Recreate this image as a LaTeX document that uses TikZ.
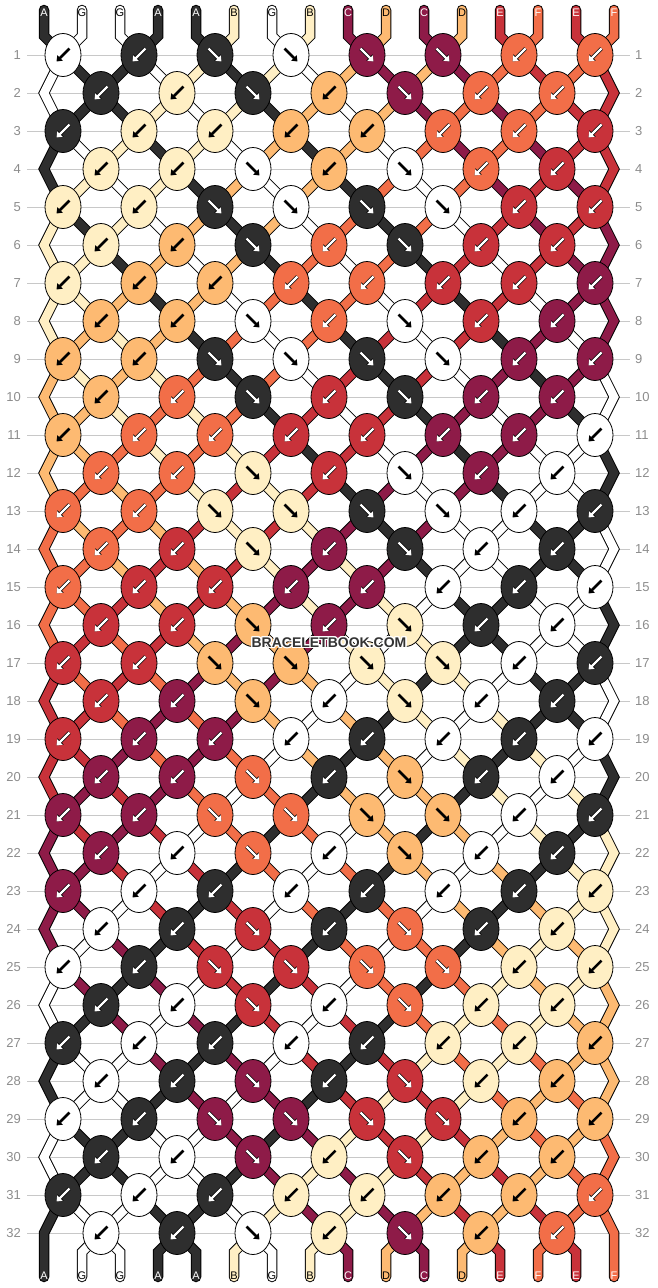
\documentclass[tikz,border=0pt]{standalone}
\usepackage{fontspec}
\setmainfont{Liberation Sans}
\usepackage[copies]{contour}
\usetikzlibrary{shapes.geometric,arrows.meta}

\definecolor{colA}{HTML}{2E2E2E}
\definecolor{colG}{HTML}{FFFFFF}
\definecolor{colB}{HTML}{FFEFC4}
\definecolor{colC}{HTML}{8E1B48}
\definecolor{colD}{HTML}{FDBA72}
\definecolor{colE}{HTML}{C8323A}
\definecolor{colF}{HTML}{F26E48}
\definecolor{rowgray}{HTML}{8C8C8C}
\definecolor{linegray}{HTML}{C8C8C8}
\definecolor{markgray}{HTML}{333333}

\pgfdeclarelayer{grid}
\pgfdeclarelayer{strands}
\pgfsetlayers{grid,strands,main}
\contourlength{1.2pt}

\tikzset{
  warrow/.style={draw=white, line width=2.3pt, -{Triangle[length=4.8pt,width=7.2pt]},
    preaction={draw=black, line width=3.7pt, -{Triangle[length=5.8pt,width=8.6pt]}}},
  barrow/.style={draw=black, line width=2.5pt, -{Triangle[length=5pt,width=7.4pt]}},
  arrA/.style=warrow, arrC/.style=warrow, arrE/.style=warrow, arrF/.style=warrow,
  arrG/.style=barrow, arrB/.style=barrow, arrD/.style=barrow,
  lbl/.style={inner sep=0pt, font=\fontsize{11}{11}\selectfont},
  lblA/.style={lbl, text=white}, lblC/.style={lbl, text=white},
  lblE/.style={lbl, text=white}, lblF/.style={lbl, text=white},
  lblG/.style={lbl, text=black}, lblB/.style={lbl, text=black}, lblD/.style={lbl, text=black}
}

% add a point to the path of string #1
\newcommand\addpt[2]{%
  \edef\sid{#1}%
  \expandafter\xdef\csname sp\sid\endcsname{\csname sp\sid\endcsname -- #2}}

% one knot between positions \pa and \pb
\newcommand\knotat{%
  \edef\ia{\csname id\pa\endcsname}%
  \edef\ib{\csname id\pb\endcsname}%
  \if L\kt \edef\kc{\csname sc\ib\endcsname}\else \edef\kc{\csname sc\ia\endcsname}\fi
  \node[knot, fill=col\kc] (k\rr-\kk) at (\xx,\yy) {};
  \if L\kt
    \draw[arr\kc] ([shift={(6.5,-6.5)}]k\rr-\kk.center) -- ([shift={(-6.5,6.5)}]k\rr-\kk.center);
  \else
    \draw[arr\kc] ([shift={(-6.5,-6.5)}]k\rr-\kk.center) -- ([shift={(6.5,6.5)}]k\rr-\kk.center);
  \fi
  \addpt{\ia}{(k\rr-\kk.center)}%
  \addpt{\ib}{(k\rr-\kk.center)}%
  \expandafter\xdef\csname id\pa\endcsname{\ib}%
  \expandafter\xdef\csname id\pb\endcsname{\ia}}

\newcommand\oddrow{%
  \foreach \kt [count=\kk] in \rtype {%
    \pgfmathtruncatemacro\pa{2*\kk-1}%
    \pgfmathtruncatemacro\pb{2*\kk}%
    \pgfmathtruncatemacro\xx{76*\kk-13}%
    \knotat}}

\newcommand\evenrow{%
  \coordinate (el\rr) at (44,\yy);
  \coordinate (er\rr) at (614,\yy);
  \addpt{\csname id1\endcsname}{(el\rr)}%
  \addpt{\csname id16\endcsname}{(er\rr)}%
  \foreach \kt [count=\kk] in \rtype {%
    \pgfmathtruncatemacro\pa{2*\kk}%
    \pgfmathtruncatemacro\pb{2*\kk+1}%
    \pgfmathtruncatemacro\xx{76*\kk+25}%
    \knotat}}

\begin{document}
\begin{tikzpicture}[x=1pt, y=-1pt,
  knot/.style={ellipse, draw=black, line width=0.8pt, minimum width=36pt, minimum height=43pt, inner sep=0pt},
  strand/.style={draw=black, line width=10.5pt, line cap=round, line join=miter,
    postaction={draw=col#1, line width=8.5pt}},
  rownum/.style={inner sep=0pt, text=rowgray, font=\fontsize{13}{13}\selectfont},
  gridline/.style={draw=linegray, line width=1pt, shorten <=6pt, shorten >=5pt},
  wmark/.style={inner sep=0pt, text=markgray, font=\bfseries\fontsize{14}{14}\selectfont}]
\useasboundingbox (0,0) rectangle (658,1288);

% row numbers and guide lines
\foreach \rr in {1,...,32}{
  \pgfmathtruncatemacro\yy{17+38*\rr}
  \node[rownum, anchor=east] (nl\rr) at (21,\yy) {\rr};
  \node[rownum, anchor=west] (nr\rr) at (635,\yy) {\rr};
  \begin{pgfonlayer}{grid}
    \draw[gridline] (nl\rr.east) -- (nr\rr.west);
  \end{pgfonlayer}
}

% strings at the top
\foreach \lett [count=\pp] in {A,G,G,A,A,B,G,B,C,D,C,D,E,F,E,F}{
  \pgfmathtruncatemacro\xx{6+38*\pp}
  \coordinate (tp\pp) at (\xx,10);
  \coordinate (tq\pp) at (\xx,36);
  \coordinate (bq\pp) at (\xx,1252);
  \coordinate (bp\pp) at (\xx,1277);
  \node[lbl\lett] (lt\pp) at (\xx,13) {\lett};
  \expandafter\xdef\csname id\pp\endcsname{\pp}
  \expandafter\xdef\csname sc\pp\endcsname{\lett}
  \expandafter\xdef\csname sp\pp\endcsname{(tp\pp) -- (tq\pp)}
}

% knot rows
\foreach \rr in {1,...,32}{
  \pgfmathtruncatemacro\yy{17+38*\rr}
  \pgfmathtruncatemacro\rowmod{mod(\rr-1,4)}
  \ifcase\rowmod\relax \xdef\rtype{L,L,R,R,R,R,L,L}\or \xdef\rtype{L,L,R,L,R,L,L}\or
    \xdef\rtype{L,L,L,L,L,L,L,L}\or \xdef\rtype{L,L,R,L,R,L,L}\fi
  \ifodd\rr\relax \let\dorow\oddrow \else \let\dorow\evenrow \fi
  \dorow
}

% strings at the bottom
\foreach \pp in {1,...,16}{
  \edef\sid{\csname id\pp\endcsname}
  \addpt{\sid}{(bq\pp)}
  \addpt{\sid}{(bp\pp)}
  \pgfmathtruncatemacro\xx{6+38*\pp}
  \edef\lett{\csname sc\sid\endcsname}
  \node[lbl\lett] (lb\pp) at (\xx,1276) {\lett};
}

\begin{pgfonlayer}{strands}
\foreach \sn in {1,...,16}{
  \edef\strandpath{\noexpand\draw[strand=\csname sc\sn\endcsname] \csname sp\sn\endcsname;}
  \strandpath
}
\end{pgfonlayer}

\node[wmark] (wm) at (329,643) {\contour{white}{BRACELETBOOK.COM}};
\end{tikzpicture}
\end{document}
